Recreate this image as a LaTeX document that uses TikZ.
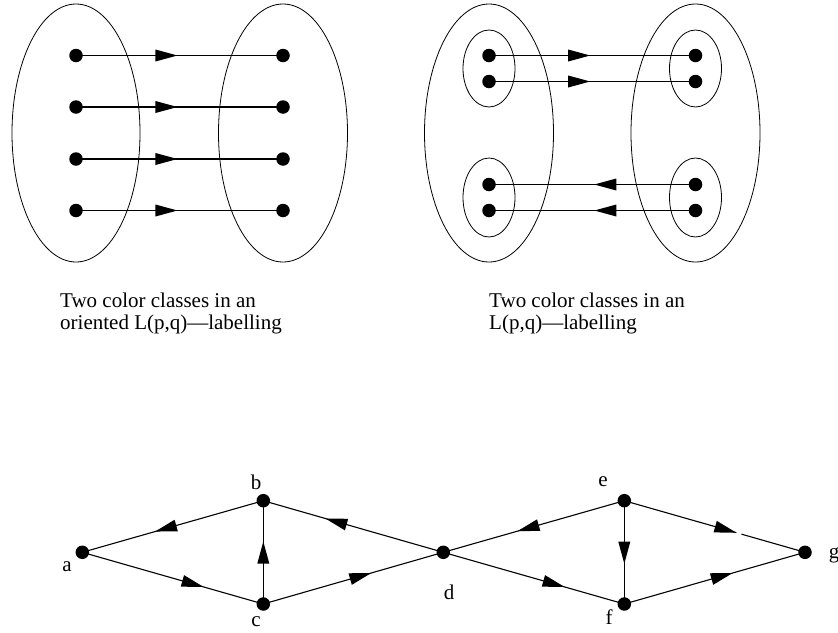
\documentclass[tikz,border=0pt]{standalone}
\usepackage{fontspec}
\setmainfont{Liberation Serif}
\usetikzlibrary{decorations.markings,calc,shapes.geometric}
\begin{document}
\begin{tikzpicture}[x=1pt,y=-1pt,
  dot/.style={circle,fill=black,inner sep=0pt,minimum size=13.5pt},
  set/.style={ellipse,draw,line width=0.8pt,inner sep=0pt},
  conn/.style={line width=1.1pt},
  lbl/.style={inner sep=0pt,font=\fontsize{21}{24}\selectfont},
  midarr/.style={postaction={decorate,decoration={markings,
      mark=at position #1 with {\fill (0pt,0pt)--(-22pt,6pt)--(-22pt,-6pt)--cycle;}}}}
]
\useasboundingbox (0,0) rectangle (838,632);

% ---- top left panel ----
\node[set,minimum width=128pt,minimum height=258pt] (L1) at (76,133) {};
\node[set,minimum width=129pt,minimum height=258pt] (R1) at (283,133) {};
\foreach \i/\y in {1/55.5,2/107,3/159,4/210.5}{
  \node[dot] (l\i) at (76,\y) {};
  \node[dot] (r\i) at (283,\y) {};
  \draw[conn,midarr=0.49] (l\i.center) -- (r\i.center);
}

% ---- top right panel ----
\node[set,minimum width=129pt,minimum height=258pt] (L2) at (489,133) {};
\node[set,minimum width=129pt,minimum height=258pt] (R2) at (695.5,133) {};
\node[set,minimum width=52pt,minimum height=77pt] (sLT) at (489,68.5) {};
\node[set,minimum width=52pt,minimum height=79pt] (sLB) at (489,197.5) {};
\node[set,minimum width=52pt,minimum height=77pt] (sRT) at (695.5,68.5) {};
\node[set,minimum width=52pt,minimum height=79pt] (sRB) at (695.5,197.5) {};
\foreach \i/\y in {1/55.5,2/81.5}{
  \node[dot] (pl\i) at (489,\y) {};
  \node[dot] (pr\i) at (695.5,\y) {};
  \draw[conn,midarr=0.49] (pl\i.center) -- (pr\i.center);
}
\foreach \i/\y in {3/184.5,4/210.5}{
  \node[dot] (pl\i) at (489,\y) {};
  \node[dot] (pr\i) at (695.5,\y) {};
  \draw[conn,midarr=0.49] (pr\i.center) -- (pl\i.center);
}

% ---- captions ----
\node[lbl,anchor=base west] (c1a) at (60,307) {Two color classes in an};
\node[lbl,anchor=base west] (c1b) at (60,329) {oriented L(p,q)\textemdash labelling};
\node[lbl,anchor=base west] (c2a) at (489,307) {Two color classes in an};
\node[lbl,anchor=base west] (c2b) at (489,329) {L(p,q)\textemdash labelling};

% ---- bottom graph ----
\node[dot] (a) at (82.3,552.3) {};
\node[dot] (b) at (263.3,500.7) {};
\node[dot] (c) at (263.3,604) {};
\node[dot] (d) at (443.3,552.3) {};
\node[dot] (e) at (624.3,500.7) {};
\node[dot] (f) at (624.3,604) {};
\node[dot] (g) at (805,552.3) {};

\node[lbl] (la) at (67,567) {a};
\node[lbl] (lb) at (256,482) {b};
\node[lbl] (lc) at (256,622) {c};
\node[lbl] (ld) at (449,592) {d};
\node[lbl] (le) at (603,482) {e};
\node[lbl] (lf) at (609,617) {f};
\node[lbl] (lg) at (834,555) {g};

\draw[conn,midarr=0.598] (b.center) -- (a.center);
\draw[conn,midarr=0.67] (a.center) -- (c.center);
\draw[conn,midarr=0.605] (c.center) -- (b.center);
\draw[conn,midarr=0.655] (d.center) -- (b.center);
\draw[conn,midarr=0.60] (c.center) -- (d.center);
\draw[conn,midarr=0.59] (e.center) -- (d.center);
\draw[conn,midarr=0.67] (d.center) -- (f.center);
\draw[conn,midarr=0.61] (e.center) -- (f.center);
\draw[conn,midarr=1] (e.center) -- ($(e.center)!0.62!(g.center)$);
\draw[conn] ($(e.center)!0.648!(g.center)$) -- (g.center);
\draw[conn,midarr=0.60] (f.center) -- (g.center);
\end{tikzpicture}
\end{document}
